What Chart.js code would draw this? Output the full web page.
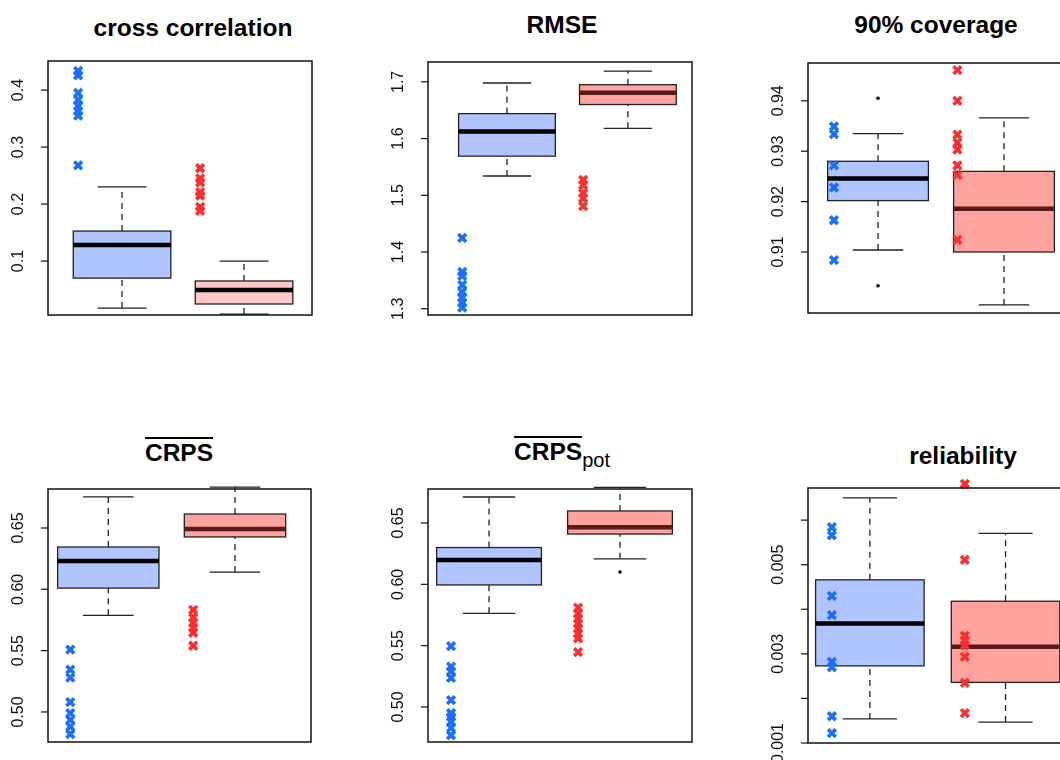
<!DOCTYPE html>
<html><head><meta charset="utf-8">
<script src="https://cdn.jsdelivr.net/npm/chart.js@4"></script>
<style>
html,body{margin:0;padding:0;background:#fff;width:1060px;height:760px;overflow:hidden;position:relative;font-family:"Liberation Sans",Arial,sans-serif}
canvas{position:absolute;left:0;top:0}
.t{position:absolute;font-weight:bold;font-size:24.5px;transform:translate(-50%,-50%);white-space:nowrap;color:#000}
.ov{text-decoration:overline;text-decoration-thickness:2px}
.sub{font-weight:normal;font-size:20px;position:relative;top:7px}
</style></head><body>
<div class="t" style="left:193px;top:28px">cross correlation</div>
<div class="t" style="left:562px;top:25px">RMSE</div>
<div class="t" style="left:936px;top:25px">90% coverage</div>
<div class="t" style="left:179px;top:453px"><span class="ov">CRPS</span></div>
<div class="t" style="left:562px;top:452px"><span class="ov">CRPS</span><span class="sub">pot</span></div>
<div class="t" style="left:963px;top:456px">reliability</div>
<script>
// stats: [lowerWhisker, q1, median, q3, upperWhisker]
const ccBlueStats=[0.0175,0.070,0.128,0.1526,0.230];
const ccRedStats=[0.007,0.0246,0.0491,0.065,0.100];
const ccBluePts=[0.4335,0.426,0.395,0.383,0.372,0.363,0.355,0.268];
const ccRedPts=[0.2628,0.245,0.238,0.221,0.215,0.195,0.188];
const ccTicks=[0.1,0.2,0.3,0.4];
const ccLabels=["0.1","0.2","0.3","0.4"];

const rmseBlueStats=[1.534,1.569,1.6125,1.644,1.698];
const rmseRedStats=[1.618,1.660,1.681,1.695,1.719];
const rmseBluePts=[1.425,1.365,1.358,1.342,1.330,1.319,1.311,1.302];
const rmseRedPts=[1.527,1.518,1.504,1.495,1.481];
const rmseTicks=[1.3,1.4,1.5,1.6,1.7];
const rmseLabels=["1.3","1.4","1.5","1.6","1.7"];

const covBlueStats=[0.9104,0.9202,0.9246,0.928,0.9335];
const covRedStats=[0.8995,0.910,0.9186,0.926,0.9366];
const covBluePts=[0.9349,0.9334,0.9272,0.9228,0.9163,0.9084];
const covRedPts=[0.9461,0.940,0.9333,0.9317,0.9303,0.9272,0.9253,0.9124];
const covBlueDots=[0.9405,0.9033];
const covTicks=[0.91,0.92,0.93,0.94];
const covLabels=["0.91","0.92","0.93","0.94"];

const crpsBlueStats=[0.5788,0.601,0.623,0.6345,0.6753];
const crpsRedStats=[0.6141,0.6427,0.6492,0.6614,0.6834];
const crpsBluePts=[0.5508,0.5345,0.528,0.508,0.499,0.4935,0.488,0.482];
const crpsRedPts=[0.5832,0.577,0.5727,0.5687,0.5646,0.554];
const crpsTicks=[0.50,0.55,0.60,0.65];
const crpsLabels=["0.50","0.55","0.60","0.65"];

const potBlueStats=[0.5764,0.5995,0.6198,0.630,0.6712];
const potRedStats=[0.6208,0.641,0.6465,0.6598,0.679];
const potBluePts=[0.5496,0.533,0.529,0.5237,0.5057,0.495,0.492,0.488,0.483,0.477];
const potRedPts=[0.581,0.576,0.572,0.568,0.564,0.5597,0.556,0.5448];
const potRedDots=[0.610];
const potTicks=[0.50,0.55,0.60,0.65];
const potLabels=["0.50","0.55","0.60","0.65"];

const relBlueStats=[0.00154,0.00273,0.00368,0.00466,0.0065];
const relRedStats=[0.00147,0.00236,0.00316,0.00418,0.0057];
const relBluePts=[0.00584,0.00566,0.0043,0.00387,0.00282,0.0027,0.0016,0.00122];
const relRedPts=[0.00681,0.00511,0.00341,0.0033,0.00319,0.00293,0.00235,0.00167];
const relTicks=[0.001,0.002,0.003,0.004,0.005,0.006];
const relLabels=["0.001","","0.003","","0.005",""];

const BLUE_FILL='#b0c4ff', RED_FILL='#ffa39e', RED_FILL_LIGHT='#ffc8c8';
const BLUE_PT='#1a6fff', RED_PT='#ff2e2e', RED_MED='#5a1a1a';

const W=1090,H=760;
function panel(c){
  const cv=document.createElement('canvas');
  cv.width=W;cv.height=H;cv.style.width=W+'px';cv.style.height=H+'px';
  document.body.appendChild(cv);
  const mk=(vals,x)=>vals.map(v=>({x:x,y:v}));
  const ds=[
    {data:mk(c.bluePts,c.ptX[0]),pointStyle:'crossRot',radius:5.5,borderWidth:3.6,borderColor:BLUE_PT,backgroundColor:BLUE_PT,clip:false},
    {data:mk(c.redPts,c.ptX[1]),pointStyle:'crossRot',radius:5.5,borderWidth:3.6,borderColor:RED_PT,backgroundColor:RED_PT,clip:false},
    {data:mk(c.blueDots||[],1).concat(mk(c.redDots||[],2)),pointStyle:'circle',radius:1.8,borderWidth:0,backgroundColor:'#000',clip:false}
  ];
  const boxPlugin={id:'box'+c.l,
    beforeDatasetsDraw(ch){
      const ctx=ch.ctx,xs=ch.scales.x,ys=ch.scales.y;
      [[c.blueStats,1,BLUE_FILL,'#000'],[c.redStats,2,c.redFill,c.redMed]].forEach(([s,pos,fill,med])=>{
        const cx=xs.getPixelForValue(pos);
        const hw=(xs.getPixelForValue(pos+0.4)-cx);
        const py=s.map(v=>ys.getPixelForValue(v));
        ctx.save();
        ctx.strokeStyle='#222';ctx.lineWidth=1.3;
        ctx.setLineDash([6,5]);
        ctx.beginPath();ctx.moveTo(cx,py[0]);ctx.lineTo(cx,py[1]);ctx.moveTo(cx,py[3]);ctx.lineTo(cx,py[4]);ctx.stroke();
        ctx.setLineDash([]);
        ctx.beginPath();ctx.moveTo(cx-hw/2,py[0]);ctx.lineTo(cx+hw/2,py[0]);ctx.moveTo(cx-hw/2,py[4]);ctx.lineTo(cx+hw/2,py[4]);ctx.stroke();
        ctx.fillStyle=fill;ctx.fillRect(cx-hw,py[3],2*hw,py[1]-py[3]);
        ctx.strokeRect(cx-hw,py[3],2*hw,py[1]-py[3]);
        ctx.strokeStyle=med;ctx.lineWidth=4.5;
        ctx.beginPath();ctx.moveTo(cx-hw,py[2]);ctx.lineTo(cx+hw,py[2]);ctx.stroke();
        ctx.restore();
      });
    },
    afterDraw(ch){
      const ctx=ch.ctx,a=ch.chartArea,ys=ch.scales.y;
      ctx.save();ctx.strokeStyle='#111';ctx.lineWidth=1.5;
      ctx.strokeRect(a.left,a.top,a.right-a.left,a.bottom-a.top);
      ctx.lineWidth=1.2;ctx.fillStyle='#111';ctx.font='16px "Liberation Sans", Arial, sans-serif';
      ctx.textAlign='center';ctx.textBaseline='middle';
      c.ticks.forEach((t,i)=>{
        const y=ys.getPixelForValue(t);
        ctx.beginPath();ctx.moveTo(a.left,y);ctx.lineTo(a.left-7,y);ctx.stroke();
        if(c.labels[i]){ctx.save();ctx.translate(a.left-29,y);ctx.rotate(-Math.PI/2);ctx.fillText(c.labels[i],0,0);ctx.restore();}
      });
      ctx.restore();
    }};
  new Chart(cv,{type:'scatter',data:{datasets:ds},
    options:{responsive:false,animation:false,devicePixelRatio:1,
      layout:{padding:{left:c.l,top:c.t,right:W-c.r,bottom:H-c.b}},
      plugins:{legend:{display:false},tooltip:{enabled:false}},
      scales:{x:{type:'linear',min:c.xmin,max:c.xmax,display:false},
              y:{type:'linear',min:c.ymin,max:c.ymax,display:false}}},
    plugins:[boxPlugin]});
}
panel({l:48,t:61,r:312,b:315,xmin:0.393,xmax:2.557,ymin:0.0053,ymax:0.451,blueStats:ccBlueStats,redStats:ccRedStats,bluePts:ccBluePts,redPts:ccRedPts,ptX:[0.64,1.64],ticks:ccTicks,labels:ccLabels,redFill:RED_FILL_LIGHT,redMed:'#000'});
panel({l:428,t:62,r:692,b:315,xmin:0.347,xmax:2.53,ymin:1.289,ymax:1.735,blueStats:rmseBlueStats,redStats:rmseRedStats,bluePts:rmseBluePts,redPts:rmseRedPts,ptX:[0.63,1.63],ticks:rmseTicks,labels:rmseLabels,redFill:RED_FILL,redMed:RED_MED});
panel({l:808,t:63,r:1072,b:313,xmin:0.444,xmax:2.54,ymin:0.8979,ymax:0.9475,blueStats:covBlueStats,redStats:covRedStats,bluePts:covBluePts,redPts:covRedPts,blueDots:covBlueDots,ptX:[0.65,1.63],ticks:covTicks,labels:covLabels,redFill:RED_FILL,redMed:RED_MED});
panel({l:48,t:489,r:311,b:742,xmin:0.524,xmax:2.6,ymin:0.4755,ymax:0.6818,blueStats:crpsBlueStats,redStats:crpsRedStats,bluePts:crpsBluePts,redPts:crpsRedPts,ptX:[0.70,1.67],ticks:crpsTicks,labels:crpsLabels,redFill:RED_FILL,redMed:RED_MED});
panel({l:428,t:489,r:692,b:742,xmin:0.534,xmax:2.55,ymin:0.4715,ymax:0.6777,blueStats:potBlueStats,redStats:potRedStats,bluePts:potBluePts,redPts:potRedPts,redDots:potRedDots,ptX:[0.71,1.68],ticks:potTicks,labels:potLabels,redFill:RED_FILL,redMed:RED_MED});
panel({l:808,t:488,r:1072,b:743,xmin:0.544,xmax:2.49,ymin:0.001,ymax:0.00672,blueStats:relBlueStats,redStats:relRedStats,bluePts:relBluePts,redPts:relRedPts,ptX:[0.72,1.70],ticks:relTicks,labels:relLabels,redFill:RED_FILL,redMed:RED_MED});
</script></body></html>
